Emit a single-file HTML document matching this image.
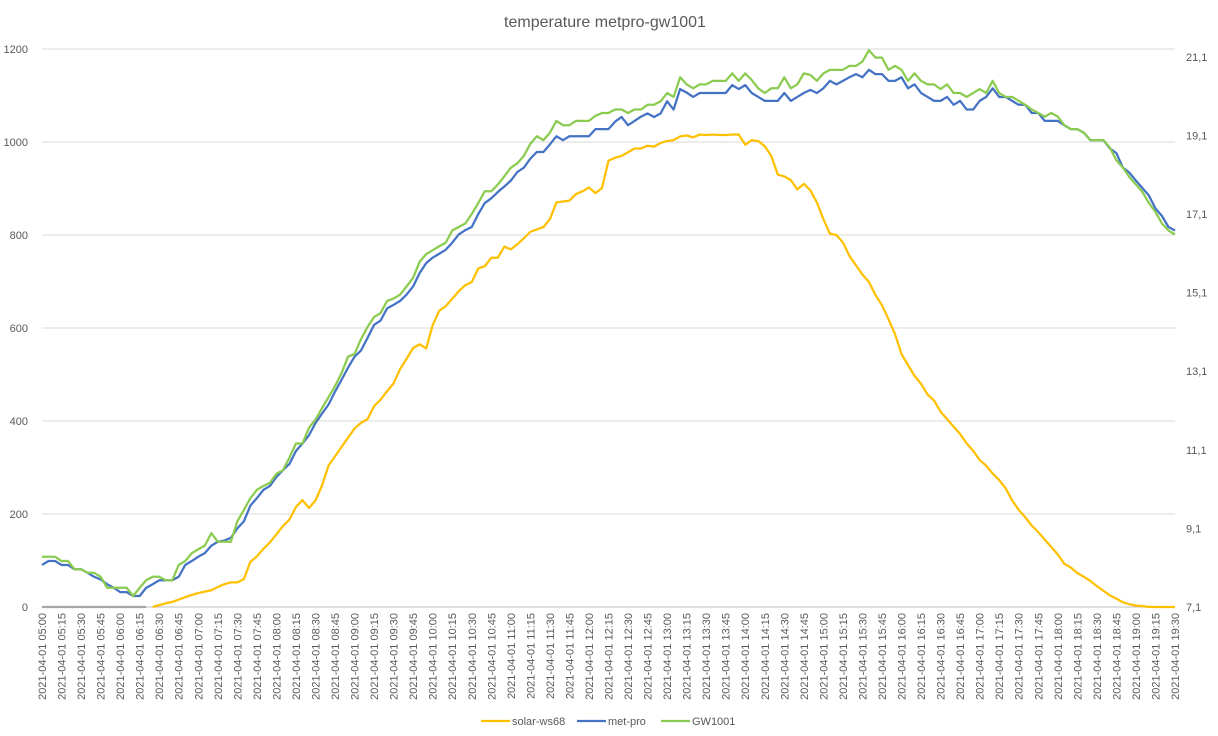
<!DOCTYPE html>
<html><head><meta charset="utf-8"><style>
body{margin:0;background:#fff;font-family:"Liberation Sans",sans-serif;}
svg{display:block}
</style></head><body>
<svg id="chart" width="1218" height="736" xmlns="http://www.w3.org/2000/svg">
<rect x="0" y="0" width="1218" height="736" fill="#fff"/>
<text x="605" y="27" text-anchor="middle" font-size="16" fill="#595959" font-family="Liberation Sans, sans-serif">temperature metpro-gw1001</text>
<g id="grid"></g><g id="axes"></g><g id="series"></g>
<g font-size="11" fill="#595959" font-family="Liberation Sans, sans-serif">
 <g><line x1="481" y1="721" x2="510" y2="721" stroke="#FFC000" stroke-width="2.25"/><text x="512" y="725">solar-ws68</text></g>
 <g><line x1="577" y1="721" x2="606" y2="721" stroke="#4472C4" stroke-width="2.25"/><text x="608" y="725">met-pro</text></g>
 <g><line x1="661" y1="721" x2="690" y2="721" stroke="#8BCB50" stroke-width="2.25"/><text x="692" y="725">GW1001</text></g>
</g>
</svg>
<script>
const solar=[null,null,null,null,null,null,null,null,null,null,null,null,null,null,null,null,null,
0,4,8,11,16,21,26,30,33,36,43,49,53,53,60,97,109,125,139,156,174,188,215,230,213,229,261,304,324,344,364,384,396,404,432,446,464,481,512,534,557,565,556,
606,637,647,663,679,692,699,728,733,751,751,775,769,780,793,807,812,817,834,870,872,874,888,894,902,890,901,960,966,970,978,986,986,992,990,998,1002,1004,1012,1014,1010,1016,1015,1016,1015,1015,1016,1016,994,1004,1002,991,970,930,926,918,898,910,896,870,
834,803,800,784,755,735,715,699,671,649,619,587,544,520,497,480,457,444,420,404,388,372,352,336,316,304,287,273,255,229,209,193,175,161,145,129,113,93,85,73,65,56,45,35,25,18,10,6,3,2,0,0,0,0,0];
const metpro=[8.17,8.27,8.27,8.17,8.17,8.06,8.06,7.97,7.87,7.80,7.68,7.59,7.48,7.48,7.38,7.38,7.59,7.68,7.78,7.78,7.78,7.87,8.17,8.27,8.38,8.47,8.66,8.76,8.79,8.86,9.10,9.28,9.68,9.87,10.08,10.18,10.41,10.58,10.74,11.07,11.26,11.47,11.78,12.02,12.25,12.58,12.88,13.19,13.47,13.63,13.95,14.28,14.39,14.70,14.79,14.89,15.05,15.26,15.60,15.85,
15.99,16.09,16.19,16.37,16.58,16.69,16.77,17.10,17.38,17.50,17.66,17.80,17.95,18.17,18.28,18.51,18.68,18.68,18.87,19.08,18.98,19.08,19.08,19.08,19.08,19.26,19.26,19.26,19.45,19.57,19.36,19.47,19.58,19.66,19.57,19.66,19.97,19.76,20.28,20.19,20.08,20.18,20.18,20.18,20.18,20.18,20.38,20.28,20.38,20.18,20.08,19.98,19.98,19.98,20.18,19.98,20.08,20.18,20.26,20.18,
20.30,20.49,20.40,20.49,20.58,20.66,20.58,20.77,20.66,20.66,20.49,20.49,20.58,20.30,20.40,20.18,20.08,19.98,19.98,20.08,19.88,19.98,19.76,19.76,19.98,20.08,20.30,20.08,20.08,19.98,19.88,19.88,19.67,19.67,19.47,19.47,19.47,19.36,19.26,19.26,19.17,18.98,18.98,18.98,18.77,18.65,18.28,18.15,17.95,17.76,17.57,17.24,17.05,16.77,16.68];
const gw1001=[8.38,8.38,8.38,8.27,8.27,8.06,8.06,7.97,7.97,7.87,7.59,7.59,7.59,7.59,7.38,7.59,7.78,7.87,7.87,7.78,7.78,8.17,8.27,8.47,8.57,8.66,8.98,8.76,8.76,8.76,9.28,9.57,9.87,10.08,10.18,10.26,10.49,10.58,10.90,11.26,11.26,11.66,11.87,12.16,12.44,12.72,13.05,13.47,13.54,13.92,14.23,14.48,14.58,14.89,14.95,15.05,15.26,15.48,15.89,16.08,
16.18,16.28,16.37,16.68,16.77,16.86,17.10,17.38,17.68,17.68,17.85,18.06,18.28,18.39,18.58,18.89,19.08,18.98,19.17,19.47,19.36,19.36,19.47,19.47,19.47,19.60,19.67,19.67,19.76,19.76,19.67,19.76,19.76,19.88,19.88,19.97,20.18,20.08,20.58,20.40,20.30,20.40,20.40,20.49,20.49,20.49,20.68,20.49,20.68,20.51,20.30,20.18,20.30,20.30,20.58,20.30,20.40,20.68,20.64,20.49,
20.68,20.77,20.77,20.77,20.87,20.87,20.98,21.27,21.08,21.08,20.77,20.87,20.77,20.49,20.68,20.49,20.40,20.40,20.28,20.40,20.18,20.18,20.08,20.18,20.28,20.18,20.49,20.18,20.08,20.08,19.98,19.88,19.76,19.67,19.58,19.67,19.58,19.36,19.26,19.26,19.17,18.98,18.98,18.98,18.79,18.47,18.28,18.04,17.85,17.66,17.38,17.15,16.86,16.68,16.58];
const leftTicks=[0,200,400,600,800,1000,1200];
const rightTicks=[7.1,9.1,11.1,13.1,15.1,17.1,19.1,21.1];
const startMinutes=300, stepMinutes=5, labelEvery=3;

const NS='http://www.w3.org/2000/svg';
const X0=42, X1=1175, YB=607, YT=49;
const N=metpro.length;
const xAt=i=>X0+(X1-X0)*i/(N-1);
const yL=v=>YB-(YB-YT)*v/1200;
const yR=t=>YB-(t-7.1)*(YB-YT)/14.2;
function mk(tag,attrs,parent){const e=document.createElementNS(NS,tag);for(const k in attrs)e.setAttribute(k,attrs[k]);parent.appendChild(e);return e;}
const grid=document.getElementById('grid'),axes=document.getElementById('axes'),ser=document.getElementById('series');
leftTicks.forEach(v=>{
 const l=mk('line',{x1:X0,x2:X1,y1:yL(v),y2:yL(v),stroke:v===0?'#bfbfbf':'#d9d9d9','stroke-width':1},grid);
 
 
 const t=mk('text',{x:28,y:yL(v)+4,'text-anchor':'end','font-size':11,fill:'#595959','font-family':'Liberation Sans, sans-serif'},axes);
 t.textContent=v;
 
 
});
rightTicks.forEach(v=>{
 const t=mk('text',{x:1186,y:yR(v)+4,'font-size':11,fill:'#595959','font-family':'Liberation Sans, sans-serif'},axes);
 t.textContent=v.toFixed(1).replace('.',',');
 
 
});
for(let i=0;i<N;i+=labelEvery){
 const m=startMinutes+i*stepMinutes;
 const s='2021-04-01 '+String(Math.floor(m/60)).padStart(2,'0')+':'+String(m%60).padStart(2,'0');
 const x=xAt(i)+4;
 const t=mk('text',{x:x,y:613,transform:'rotate(-90 '+x+' 613)','text-anchor':'end','font-size':11,fill:'#595959','font-family':'Liberation Sans, sans-serif'},axes);
 t.textContent=s;
 
 
}
// grey zero segment before solar data begins
const firstSolar=solar.findIndex(v=>v!==null);
const gs=mk('line',{x1:X0,x2:xAt(firstSolar-1),y1:yL(0),y2:yL(0),stroke:'#a6a6a6','stroke-width':2.25},ser);


function line(arr,yf,color,name){
 let d='',pen=false;
 arr.forEach((v,i)=>{if(v===null){pen=false;return;}d+=(pen?'L':'M')+xAt(i).toFixed(2)+' '+yf(v).toFixed(2);pen=true;});
 const p=mk('path',{d:d,fill:'none',stroke:color,'stroke-width':2.25,'stroke-linejoin':'round'},ser);
 
 
}
line(solar,yL,'#FFC000','solar-ws68-line');
line(metpro,yR,'#4472C4','met-pro-line');
line(gw1001,yR,'#8BCB50','gw1001-line');
</script>
</body></html>
